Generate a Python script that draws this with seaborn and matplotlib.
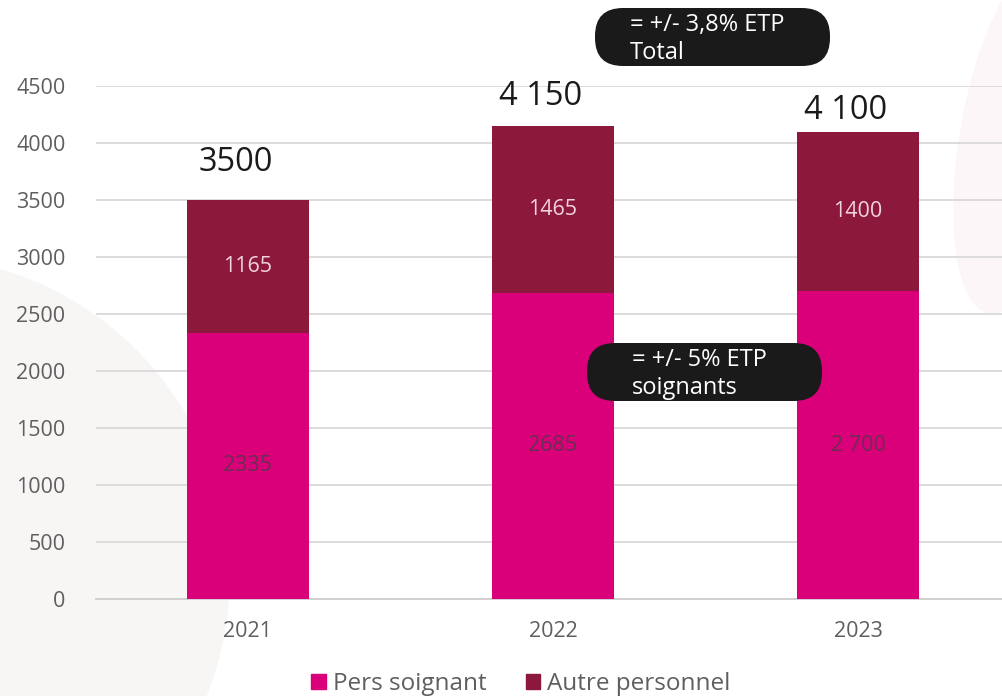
import pandas as pd
import matplotlib.pyplot as plt
import seaborn as sns
from matplotlib.patches import FancyBboxPatch, Circle, Ellipse

# -------------------------
# Data
# -------------------------
years = ['2021', '2022', '2023']
soignant = [2335, 2685, 2700]
autre = [1165, 1465, 1400]
soignant_labels = ['2335', '2685', '2 700']
autre_labels = ['1165', '1465', '1400']
total_labels = ['3500', '4 150', '4 100']
callout_total = '= +/- 3,8% ETP\nTotal'
callout_soignant = '= +/- 5% ETP\nsoignants'

df = pd.DataFrame({'year': years, 'soignant': soignant, 'autre': autre})
df['total'] = df['soignant'] + df['autre']

# -------------------------
# Style
# -------------------------
sns.set_style('white')
plt.rcParams['font.family'] = ['Open Sans', 'DejaVu Sans']

pink = '#DA0079'
maroon = '#8C183C'
grey = '#5f5f5f'

fig = plt.figure(figsize=(10.02, 6.96), dpi=100)
fig.patch.set_facecolor('#ffffff')

# faint background shapes
fig.patches.append(Circle((-0.9, 1.2), 3.2, transform=fig.dpi_scale_trans,
                          facecolor='#f8f5f5', edgecolor='none', zorder=-10))
fig.patches.append(Ellipse((10.2, 5.6), 1.2, 3.6, angle=-10, transform=fig.dpi_scale_trans,
                           facecolor='#fdf6f9', edgecolor='none', zorder=-10))

ax = fig.add_axes([96 / 1002, 97 / 696, 1 - 96 / 1002, 513 / 696])
ax.set_facecolor('none')

# stacked bars: total in maroon, soignant on top of it
sns.barplot(data=df, x='year', y='total', color=maroon, width=0.4, saturation=1,
            linewidth=0, ax=ax, zorder=3)
sns.barplot(data=df, x='year', y='soignant', color=pink, width=0.4, saturation=1,
            linewidth=0, ax=ax, zorder=3)

ax.set_ylim(0, 4500)
ax.set_xlim(-0.498, 2.472)
ax.set_yticks(range(0, 4501, 500))
ax.yaxis.grid(True, color='#dcdcdc', linewidth=1.4, zorder=0)
ax.set_axisbelow(True)
for s in ['top', 'right', 'left']:
    ax.spines[s].set_visible(False)
ax.spines['bottom'].set_color('#d0d0d0')
ax.spines['bottom'].set_linewidth(1.4)
ax.tick_params(axis='y', length=0, pad=22, labelsize=15.5, labelcolor=grey)
ax.tick_params(axis='x', length=0, pad=16, labelsize=15.5, labelcolor=grey)
ax.set_xlabel('')
ax.set_ylabel('')

# value labels
total_offsets = [330, 254, 181]
for i in range(len(years)):
    ax.text(i, soignant[i] / 2, soignant_labels[i], ha='center', va='center',
            fontsize=15.5, color='#6b2d52', zorder=5)
    ax.text(i, soignant[i] + autre[i] / 2, autre_labels[i], ha='center', va='center',
            fontsize=15.5, color='#f1d3df', zorder=5)
    tot = soignant[i] + autre[i]
    ax.text(i - 0.04, tot + total_offsets[i], total_labels[i], ha='center', va='center',
            fontsize=23.5, color='#1a1a1a', zorder=5, clip_on=False)

# callouts
for (x0, y0, w, h), txt, tx in [((5.95, 6.30, 2.35, 0.58), callout_total, 6.30),
                                 ((5.87, 2.95, 2.35, 0.58), callout_soignant, 6.32)]:
    fig.patches.append(FancyBboxPatch((x0, y0), w, h, boxstyle='round,pad=0,rounding_size=0.28',
                                      transform=fig.dpi_scale_trans, facecolor='#1a1a1a',
                                      edgecolor='none', zorder=10))
    fig.text(tx / 10.02, (y0 + h / 2 - 0.02) / 6.96, txt, ha='left', va='center', fontsize=17,
             color='white', linespacing=1.25, zorder=11)

# legend
handles = [plt.Rectangle((0, 0), 1, 1, color=pink), plt.Rectangle((0, 0), 1, 1, color=maroon)]
fig.legend(handles, ['Pers soignant', 'Autre personnel'], loc='center', bbox_to_anchor=(0.52, 12 / 696),
           ncol=2, frameon=False, fontsize=17.5, labelcolor=grey, handlelength=0.6, handleheight=0.6,
           handletextpad=0.3, columnspacing=1.6)

plt.savefig('out.png', dpi=100)
